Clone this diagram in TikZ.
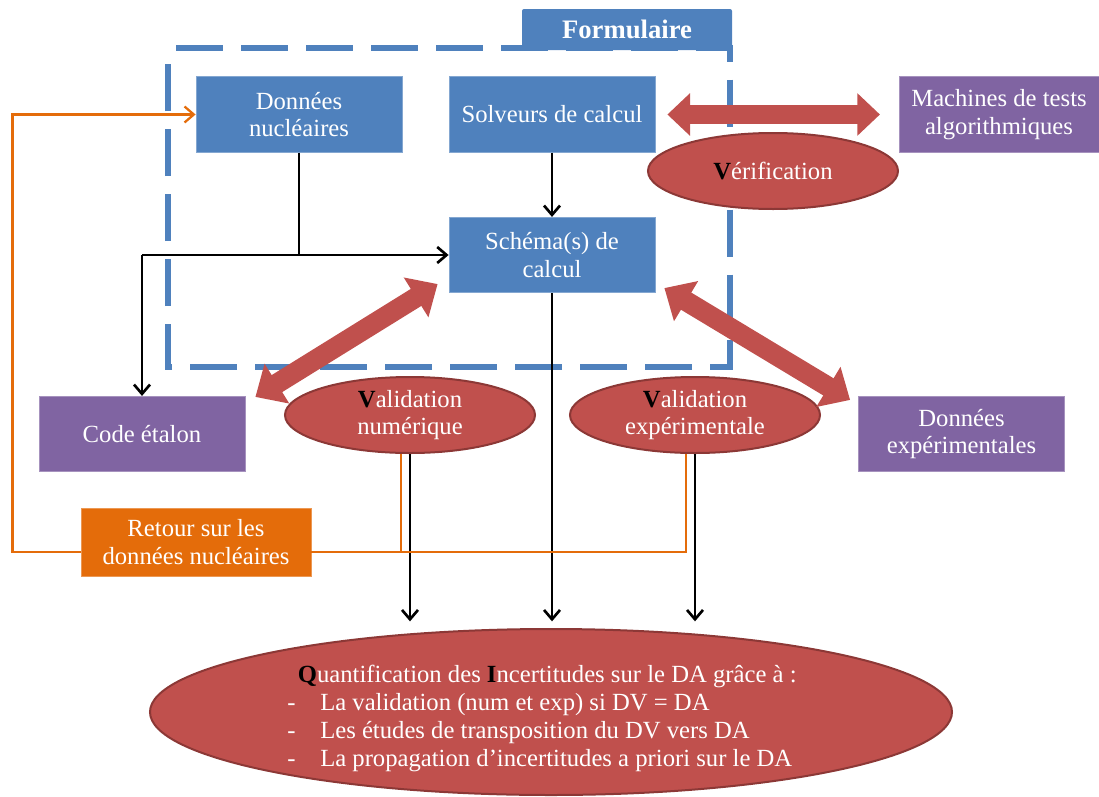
\documentclass[tikz,border=0pt]{standalone}
\usepackage{fontspec}
\setmainfont{Liberation Serif}
\usetikzlibrary{arrows.meta,shapes.geometric,calc}
\definecolor{cblue}{HTML}{4F81BD}
\definecolor{cpurple}{HTML}{8064A2}
\definecolor{cred}{HTML}{C0504D}
\definecolor{credd}{HTML}{8C3836}
\definecolor{corange}{HTML}{E46C0A}
\begin{document}
\begin{tikzpicture}[x=0.75pt,y=-0.75pt,
  txt/.style={font=\fontsize{18.5}{20.5}\selectfont, text=white, align=center},
  bbox/.style={txt, fill=cblue, draw=cblue!70!white, line width=0.6pt, minimum width=154.5pt, minimum height=56.5pt, inner sep=0pt},
  pbox/.style={bbox, fill=cpurple, draw=cpurple!70!white},
  obox/.style={bbox, fill=corange, draw=corange!70!white, minimum width=172.5pt, minimum height=51pt},
  redell/.style={txt, ellipse, fill=cred, draw=credd, line width=1.5pt, inner sep=0pt, minimum width=187.5pt, minimum height=57pt},
  blk/.style={black, line width=2pt, -{Straight Barb[length=7pt,width=12pt]}},
  blkline/.style={black, line width=2pt},
  org/.style={corange, line width=1.7pt},
  orgarrow/.style={org, -{Straight Barb[length=7pt,width=12pt]}},
  big/.style={cred, line width=14pt, {Triangle[length=17pt,width=31pt]}-{Triangle[length=17pt,width=31pt]}},
  bigd/.style={cred, line width=15pt, {Triangle[length=19pt,width=34pt]}-{Triangle[length=19pt,width=34pt]}},
  dashbox/.style={cblue, line width=4.5pt, dash pattern=on 35.25pt off 13.5pt, dash phase=-6pt}
]
\useasboundingbox (0,0) rectangle (1099,796);

% Formulaire frame
\draw[dashbox] (168,48) -- (729.5,48) -- (729.5,367) -- (168,367) -- cycle;
\node[fill=cblue, minimum width=157.5pt, minimum height=30.75pt, inner sep=0pt, rounded corners=1.5pt,
      text=white, font=\fontsize{20}{22}\selectfont\bfseries] (tab) at (627,29.5) {Formulaire};

% boxes
\node[bbox] (dn) at (299,114.5) {Données\\nucléaires};
\node[bbox] (solv) at (552,114.5) {Solveurs de calcul};
\node[bbox] (sch) at (552,255) {Schéma(s) de\\calcul};
\node[pbox, minimum width=150pt] (mach) at (999,114.5) {Machines de tests\\algorithmiques};
\node[pbox] (code) at (142,434) {Code étalon};
\node[pbox] (dexp) at (961.5,434) {Données\\expérimentales};
\node[obox] (ret) at (196,542) {Retour sur les\\données nucléaires};

% ellipses
\node[redell] (verif) at (773,171) {\textcolor{black}{\textbf{V}}érification};
\node[redell] (vnum) at (410,415) {\textcolor{black}{\textbf{V}}alidation\\numérique};
\node[redell] (vexp) at (695,415) {\textcolor{black}{\textbf{V}}alidation\\expérimentale};
\node[redell, minimum width=601.5pt, minimum height=124.5pt] (qi) at (551,712) {};
\node[txt, align=left, anchor=west, inner sep=0pt, font=\fontsize{18.5}{21}\selectfont] (qitxt) at (287,718)
  {\hspace*{8pt}\textcolor{black}{\textbf{Q}}uantification des \textcolor{black}{\textbf{I}}ncertitudes sur le DA grâce à :\\
   \makebox[24.75pt][l]{-}La validation (num et exp) si DV = DA\\
   \makebox[24.75pt][l]{-}Les études de transposition du DV vers DA\\
   \makebox[24.75pt][l]{-}La propagation d’incertitudes a priori sur le DA};

% black connectors
\draw[blkline] (dn.south) -- (dn.south |- sch.west);
\draw[blk] (code.north |- sch.west) -- (sch.west);
\draw[blk] (code.north |- sch.west) -- (code.north);
\draw[blk] (solv) -- (sch);
\draw[blk, shorten >=5pt] (sch.south) -- (sch.south |- qi.north);
\draw[blk, shorten >=5pt] (vnum.south) -- (vnum.south |- qi.north);
\draw[blk, shorten >=5pt] (vexp.south) -- (vexp.south |- qi.north);

% orange connectors
\draw[org] ($(vexp.south)+(-9,0)$) |- ($(ret.east)+(0,10)$);
\draw[org] ($(vnum.south)+(-9,0)$) |- ($(ret.east)+(0,10)$);
\draw[orgarrow] ($(ret.west)+(0,10)$) -- ++(-68,0) |- (dn.west);

% block arrows
\draw[big, shorten <=9pt, shorten >=14pt] (solv.east) -- (mach.west);
\draw[bigd] ($(sch.south west)+(-11,-9)$) -- ($(code.north east)+(10,1)$);
\draw[bigd] ($(sch.south east)+(9,-5)$) -- ($(dexp.north west)+(-8,4)$);
\end{tikzpicture}
\end{document}
